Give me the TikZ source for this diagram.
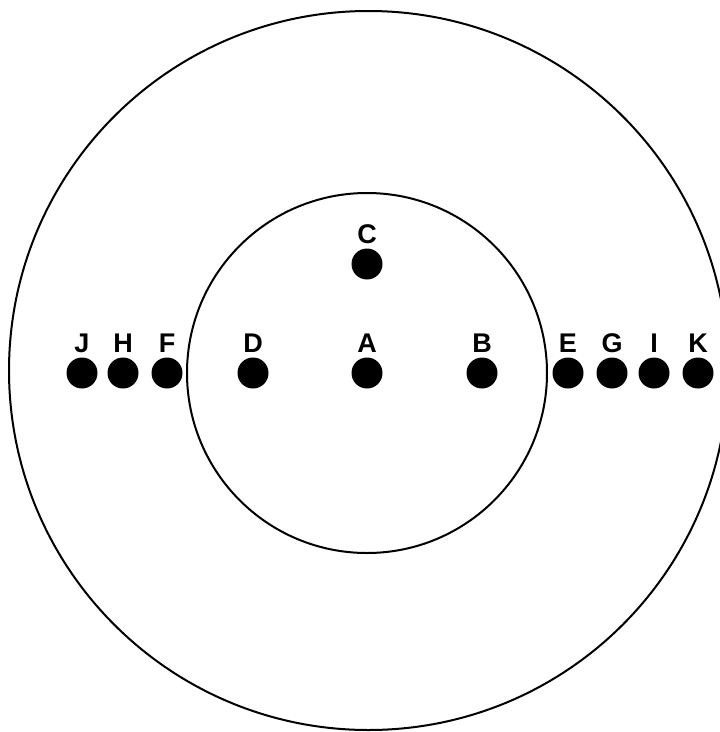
\documentclass[tikz,border=0pt]{standalone}
\usepackage{fontspec}
\setmainfont{Liberation Sans}
\begin{document}
\begin{tikzpicture}[x=1pt,y=-1pt,line join=round,line cap=round,
	dot/.style={circle,fill,inner sep=0pt,minimum size=31pt},
	lab/.style={font=\fontsize{27}{27}\selectfont\bfseries,inner sep=0pt,anchor=base}]
	\useasboundingbox (0,0) rectangle (720,732);
	\path
	(368.5,370.5) coordinate (O)
	(367,373) coordinate (M);
	\draw[line width=2pt] (O) circle (359.5pt);
	\draw[line width=2pt] (M) circle (180pt);
	\node[dot] (C) at (367,264) {};
	\node[lab] (lC) at (367,243) {C};
	\foreach \x/\px in {J/82,H/123,F/167,D/253,A/367,B/482,E/568,G/612,I/654,K/698}
	{\node[dot] (\x) at (\px,373) {};
	\node[lab] (l\x) at (\px,352) {\x};}
\end{tikzpicture}
\end{document}
